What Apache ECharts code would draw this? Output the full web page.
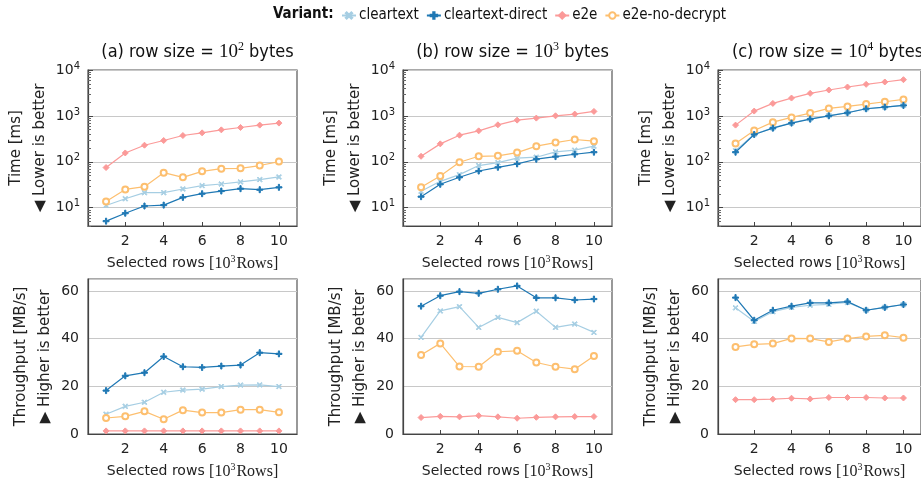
<!DOCTYPE html>
<html><head><meta charset="utf-8">
<script src="https://cdn.jsdelivr.net/npm/echarts@6/dist/echarts.min.js"></script>
<style>html,body{margin:0;padding:0;background:#fff}#c{width:921px;height:485px}</style>
</head><body><div id="c"></div>
<script>
// ---- data ----
const rows = [1, 2, 3, 4, 5, 6, 7, 8, 9, 10];
const variants = ['cleartext', 'cleartext-direct', 'e2e', 'e2e-no-decrypt'];
const panelTitles = ['(a)', '(b)', '(c)'];
const rowSizeExp = ['2', '3', '4'];
const xTicks = [2, 4, 6, 8, 10];
const logMinorTicks = [4, 5, 6, 7, 8, 9, 20, 30, 40, 50, 60, 70, 80, 90,
  200, 300, 400, 500, 600, 700, 800, 900, 2000, 3000, 4000, 5000, 6000, 7000, 8000, 9000];

// Time [ms]
const timeA_cleartext = [11.2, 15.7, 21.3, 21.3, 25.6, 30.3, 32.9, 36.4, 41, 46.8];
const timeA_direct = [5.1, 7.6, 10.9, 11.4, 16.8, 20.2, 23.1, 26, 24.7, 27.8];
const timeA_e2e = [75, 156, 230, 291, 374, 428, 497, 560, 630, 697];
const timeA_nodec = [13.7, 25, 28.8, 58, 46, 62, 71, 72, 83, 101];

const timeB_cleartext = [22.8, 37.6, 52.6, 83, 96, 120, 126, 165, 179, 219];
const timeB_direct = [17.4, 32.4, 46, 63, 76, 90, 114, 130, 146, 162];
const timeB_e2e = [132, 246, 380, 473, 640, 809, 895, 1006, 1095, 1253];
const timeB_nodec = [27.8, 49, 98, 132, 135, 159, 219, 263, 306, 281];

const timeC_cleartext = [175, 398, 547, 704, 867, 1017, 1177, 1432, 1557, 1693];
const timeC_direct = [162, 394, 541, 697, 851, 1006, 1171, 1432, 1557, 1693];
const timeC_e2e = [630, 1274, 1872, 2448, 3097, 3663, 4258, 4871, 5478, 6155];
const timeC_nodec = [250, 481, 732, 926, 1152, 1456, 1610, 1811, 2037, 2291];

// Throughput [MB/s]
const thrA_cleartext = [8.3, 11.6, 13.3, 17.5, 18.4, 18.8, 19.9, 20.5, 20.6, 19.9];
const thrA_direct = [18.2, 24.4, 25.7, 32.5, 28.2, 27.9, 28.5, 28.9, 34.1, 33.6];
const thrA_e2e = [1.3, 1.3, 1.3, 1.3, 1.3, 1.3, 1.3, 1.3, 1.3, 1.3];
const thrA_nodec = [6.7, 7.4, 9.5, 6.2, 10.0, 9.0, 9.0, 10.2, 10.2, 9.1];

const thrB_cleartext = [40.5, 51.6, 53.4, 44.7, 48.9, 46.7, 51.5, 44.7, 46.1, 42.6];
const thrB_direct = [53.6, 58.0, 59.7, 59.0, 60.7, 62.1, 57.1, 57.1, 56.2, 56.6];
const thrB_e2e = [6.9, 7.4, 7.2, 7.7, 7.2, 6.6, 7.0, 7.2, 7.3, 7.3];
const thrB_nodec = [33.1, 38.0, 28.3, 28.2, 34.5, 34.9, 30.0, 28.2, 27.2, 32.7];

const thrC_cleartext = [52.9, 47.2, 51.3, 53.1, 54.0, 54.4, 55.2, 51.9, 53.1, 54.3];
const thrC_direct = [57.2, 47.7, 51.9, 53.6, 55.0, 55.0, 55.5, 51.9, 53.1, 54.3];
const thrC_e2e = [14.4, 14.4, 14.6, 15.0, 14.7, 15.3, 15.3, 15.3, 15.1, 15.1];
const thrC_nodec = [36.5, 37.6, 37.9, 40.1, 40.0, 38.6, 40.0, 40.9, 41.4, 40.4];

const timeData = [
  [timeA_cleartext, timeA_direct, timeA_e2e, timeA_nodec],
  [timeB_cleartext, timeB_direct, timeB_e2e, timeB_nodec],
  [timeC_cleartext, timeC_direct, timeC_e2e, timeC_nodec]
];
const thrData = [
  [thrA_cleartext, thrA_direct, thrA_e2e, thrA_nodec],
  [thrB_cleartext, thrB_direct, thrB_e2e, thrB_nodec],
  [thrC_cleartext, thrC_direct, thrC_e2e, thrC_nodec]
];

// ---- styles ----
const colors = ['#a6cee3', '#1f78b4', '#fb9a99', '#fdbf6f'];
const SANS = 'DejaVu Sans';
const COND = "'DejaVu Sans Condensed', 'DejaVu Sans'";
const SERIF = "'Liberation Serif', serif";
const plusPath = 'path://M4,0h2v4h4v2h-4v4h-2v-4h-4v-2h4z';
const xPath = 'path://M0,1.4L1.4,0L5,3.6L8.6,0L10,1.4L6.4,5L10,8.6L8.6,10L5,6.4L1.4,10L0,8.6L3.6,5z';
const symbols = [xPath, plusPath, 'diamond', 'emptyCircle'];
const symbolSizes = [5, 6, 6, 6];

const lefts = [88, 403, 718];
const W = 209;
const rowsTop = [70, 279];
const rowsH = [156, 155];
const LOG_MIN = 4, LOG_MAX = 10000;

const grids = [], xAxes = [], yAxes = [], series = [];
const xName = '{t|Selected rows }{m|[10}{sup|3}{m|Rows]}';
const xNameRich = {
  t: {fontFamily: SANS, fontSize: 14, color: '#222'},
  m: {fontFamily: SERIF, fontSize: 16, color: '#222'},
  sup: {fontFamily: SERIF, fontSize: 10, color: '#222', padding: [0, 1, 9, 0]}
};

const yIndexOf = {};
for (let r = 0; r < 2; r++) {
  for (let p = 0; p < 3; p++) {
    const idx = r * 3 + p;
    grids.push({left: lefts[p], top: rowsTop[r], width: W, height: rowsH[r],
      show: true, borderColor: '#555', borderWidth: 1.2, backgroundColor: 'transparent'});
    xAxes.push({
      type: 'value', gridIndex: idx, min: 0.06, max: 10.94,
      axisLine: {show: true, onZero: false, lineStyle: {color: '#444', width: 1.2}},
      axisTick: {show: true, inside: true, length: 4, customValues: xTicks, lineStyle: {color: '#444'}},
      axisLabel: {customValues: xTicks, fontFamily: SANS, fontSize: 14, color: '#222', margin: 8},
      splitLine: {show: false},
      name: xName, nameLocation: 'middle', nameGap: 28,
      nameTextStyle: {rich: xNameRich}
    });
    yIndexOf[idx] = yAxes.length;
    if (r === 0) {
      yAxes.push({
        type: 'log', logBase: 10, gridIndex: idx, min: LOG_MIN, max: LOG_MAX,
        axisLine: {show: true, lineStyle: {color: '#444', width: 1.2}},
        axisTick: {show: true, inside: true, length: 5, lineStyle: {color: '#444'}},
        axisLabel: {
          showMinLabel: false, margin: 8,
          formatter: v => '{b|10}{s|' + Math.round(Math.log10(v)) + '}',
          rich: {b: {fontFamily: SANS, fontSize: 14, color: '#222'},
                 s: {fontFamily: SANS, fontSize: 10, color: '#222', padding: [0, 0, 8, 0]}}
        },
        splitLine: {show: true, lineStyle: {color: '#c8c8c8', width: 1}},
        name: 'Time [ms]\n\u25C0 Lower is better', nameLocation: 'middle', nameGap: 34, nameRotate: 90,
        nameTextStyle: {fontFamily: SANS, fontSize: 15, color: '#222', lineHeight: 24}
      });
      // overlay axis (log10 space) used only to draw the log minor ticks
      yAxes.push({
        type: 'value', gridIndex: idx, min: Math.log10(LOG_MIN), max: Math.log10(LOG_MAX), position: 'left',
        show: true,
        axisLine: {show: true, lineStyle: {color: 'rgba(0,0,0,0)'}},
        axisTick: {show: true, inside: true, length: 3, customValues: logMinorTicks.map(v => Math.log10(v)),
          lineStyle: {color: '#666', width: 1}},
        axisLabel: {show: true, customValues: logMinorTicks.map(v => Math.log10(v)), formatter: () => ''},
        splitLine: {show: false}
      });
    } else {
      yAxes.push({
        type: 'value', gridIndex: idx, min: 0, max: 65, interval: 20,
        axisLine: {show: true, lineStyle: {color: '#444', width: 1.2}},
        axisTick: {show: false},
        axisLabel: {showMaxLabel: false, fontFamily: SANS, fontSize: 14, color: '#222', margin: 9},
        splitLine: {show: true, lineStyle: {color: '#c8c8c8', width: 1}},
        name: 'Throughput [MB/s]\n\u25B6 Higher is better', nameLocation: 'middle', nameGap: 30, nameRotate: 90,
        nameTextStyle: {fontFamily: SANS, fontSize: 15, color: '#222', lineHeight: 24}
      });
    }
    const src = r === 0 ? timeData[p] : thrData[p];
    for (let s = 0; s < 4; s++) {
      series.push({
        type: 'line', name: variants[s], xAxisIndex: idx, yAxisIndex: yIndexOf[idx],
        data: rows.map((x, i) => [x, src[s][i]]),
        symbol: symbols[s], symbolSize: symbolSizes[s], showAllSymbol: true,
        lineStyle: {color: colors[s], width: 1.2},
        itemStyle: {color: colors[s], borderColor: colors[s], borderWidth: 1},
        emphasis: {disabled: true}, animation: false, z: s === 1 ? 4 : 3
      });
    }
  }
}

// panel titles
const titles = [];
for (let p = 0; p < 3; p++) {
  titles.push({
    text: '{t|' + panelTitles[p] + ' row size = }{m|10}{sup|' + rowSizeExp[p] + '}{t| bytes}',
    left: lefts[p] + W / 2, top: 36, textAlign: 'center',
    textStyle: {fontWeight: 'normal', rich: {
      t: {fontFamily: COND, fontSize: 18, fontWeight: 'normal', color: '#111'},
      m: {fontFamily: SERIF, fontSize: 19, fontWeight: 'normal', color: '#111'},
      sup: {fontFamily: SERIF, fontSize: 12, fontWeight: 'normal', color: '#111', padding: [0, 0, 10, 0]}
    }}
  });
}
titles.push({text: 'Variant:', left: 268, top: 2,
  textStyle: {fontFamily: COND, fontSize: 15, fontWeight: 'bold', color: '#111'}});

const chart = echarts.init(document.getElementById('c'), null, {renderer: 'canvas'});
chart.setOption({
  animation: false,
  title: titles,
  legend: {
    data: variants, left: 336, top: 3, itemWidth: 14, itemHeight: 8, itemGap: 7,
    textStyle: {fontFamily: COND, fontSize: 15, color: '#111', padding: [0, 0, 0, -2]},
    selectedMode: false
  },
  grid: grids, xAxis: xAxes, yAxis: yAxes, series: series
});
</script></body></html>
